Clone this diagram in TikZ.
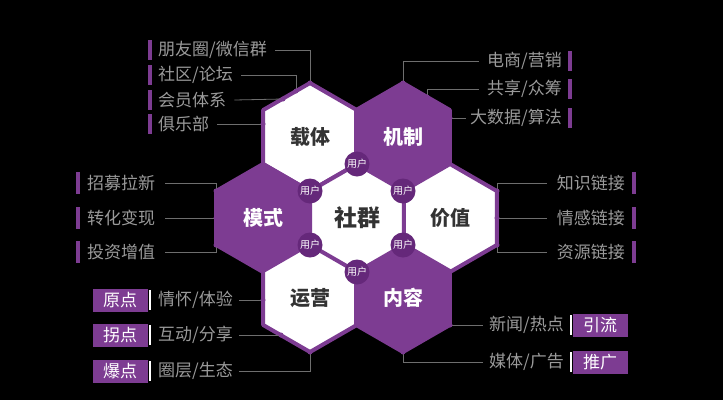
\documentclass[tikz,border=0pt]{standalone}
\usepackage{fontspec}
\setmainfont{Noto Sans CJK SC}
\begin{document}
\begin{tikzpicture}[x=1pt,y=-1pt,
  hexline/.style={draw=hp,line width=4pt,line join=round},
  lab/.style={font=\fontsize{17}{17}\selectfont,text=tg,inner sep=0pt},
  hl/.style={font=\bfseries\fontsize{20}{20}\selectfont,inner sep=0pt},
  usr/.style={circle,fill=dp,minimum size=25pt,inner sep=0pt,text=white,font=\fontsize{10}{10}\selectfont},
  ln/.style={draw=lg,line width=0.8pt},
  dot/.style={circle,fill=hp,inner sep=0pt,minimum size=5pt},
  tag/.style={fill=hp,text=white,font=\fontsize{17}{17}\selectfont,minimum width=55pt,minimum height=23pt,inner sep=0pt}]
\definecolor{hp}{HTML}{7D3C92}
\definecolor{dp}{HTML}{65287A}
\definecolor{tg}{HTML}{9A9A9A}
\definecolor{lg}{HTML}{6E6E6E}
\definecolor{dk}{HTML}{333333}
\fill[black] (0,0) rectangle (723,400);
\useasboundingbox (0,0) rectangle (723,400);
\newcommand\hexp[3]{%
  \path[#3] (#1,#2-54) -- (#1+46.8,#2-27) -- (#1+46.8,#2+27) -- (#1,#2+54) -- (#1-46.8,#2+27) -- (#1-46.8,#2-27) -- cycle;}
\hexp{310}{137}{fill=white,hexline}
\hexp{403}{137}{fill=hp,hexline}
\hexp{263}{218}{fill=hp,hexline}
\hexp{450}{218}{fill=white,hexline}
\hexp{310}{298}{fill=white,hexline}
\hexp{403}{298}{fill=hp,hexline}
\hexp{357}{218}{fill=white,hexline}
\node[hl,text=dk] (zt) at (310,137) {载体};
\node[hl,text=white] (jz) at (403,137) {机制};
\node[hl,text=white] (ms) at (263,218) {模式};
\node[hl,text=dk] (jv) at (450,218) {价值};
\node[hl,text=dk] (yy) at (310,298) {运营};
\node[hl,text=white] (nr) at (403,298) {内容};
\node[hl,text=dk,font=\bfseries\fontsize{23}{23}\selectfont] (sq) at (357,218) {社群};
\node[usr] (u1) at (357,164) {用户};
\node[usr] (u2) at (310,191) {用户};
\node[usr] (u3) at (403,191) {用户};
\node[usr] (u4) at (310,245) {用户};
\node[usr] (u5) at (403,245) {用户};
\node[usr] (u6) at (357,272) {用户};
% top left
\foreach \t/\y/\n in {{朋友圈/微信群}/50/a1,{社区/论坛}/75/a2,{会员体系}/100/a3,{俱乐部}/124/a4}{
  \fill[hp] (148,\y-10) rectangle (152,\y+10);
  \node[lab,anchor=west] (\n) at (158,\y) {\t};}
\coordinate (p1) at (310,83); \coordinate (p2) at (296,91); \coordinate (p3) at (283,99); \coordinate (p4) at (263,124);
\draw[ln] ([xshift=8pt]a1.east) -| (p1);
\draw[ln] ([xshift=8pt]a2.east) -| (p2);
\draw[ln] ([xshift=8pt]a3.east) -- (p3);
\draw[ln] ([xshift=8pt]a4.east) -- (p4);
\foreach \p in {p1,p2,p3,p4} \node[dot] at (\p) {};
% top right
\foreach \t/\y/\n in {{电商/营销}/61/b1,{共享/众筹}/89/b2,{大数据/算法}/118/b3}{
  \fill[hp] (568,\y-10) rectangle (572,\y+10);
  \node[lab,anchor=east] (\n) at (562,\y) {\t};}
\coordinate (q1) at (403,83); \coordinate (q2) at (427,97); \coordinate (q3) at (450,118);
\draw[ln] ([xshift=-8pt]b1.west) -| (q1);
\draw[ln] ([xshift=-8pt]b2.west) -| (q2);
\draw[ln] ([xshift=-4pt]b3.west) -- (q3);
\foreach \p in {q1,q2,q3} \node[dot] at (\p) {};
% middle left
\foreach \t/\y/\n in {招募拉新/183/c1,转化变现/218/c2,投资增值/252/c3}{
  \fill[hp] (76,\y-11) rectangle (80,\y+11);
  \node[lab,anchor=west] (\n) at (87,\y) {\t};}
\coordinate (r1) at (216,191); \coordinate (r2) at (216,218); \coordinate (r3) at (216,245);
\draw[ln] ([xshift=10pt]c1.east) -| (r1);
\draw[ln] ([xshift=10pt]c2.east) -- (r2);
\draw[ln] ([xshift=10pt]c3.east) -| (r3);
\foreach \p in {r1,r2,r3} \node[dot] at (\p) {};
% middle right
\foreach \t/\y/\n in {知识链接/183/d1,情感链接/218/d2,资源链接/252/d3}{
  \fill[hp] (632,\y-11) rectangle (636,\y+11);
  \node[lab,anchor=east] (\n) at (625,\y) {\t};}
\coordinate (s1) at (497,191); \coordinate (s2) at (497,218); \coordinate (s3) at (497,245);
\draw[ln] ([xshift=-10pt]d1.west) -| (s1);
\draw[ln] ([xshift=-10pt]d2.west) -- (s2);
\draw[ln] ([xshift=-10pt]d3.west) -| (s3);
\foreach \p in {s1,s2,s3} \node[dot] at (\p) {};
% bottom left
\foreach \k/\t/\y/\n in {原点/{情怀/体验}/300/e1,拐点/{互动/分享}/335/e2,爆点/{圈层/生态}/371/e3}{
  \node[tag] (k\n) at (120,\y) {\k};
  \fill[white] (149,\y-10) rectangle (151,\y+10);
  \node[lab,anchor=west] (\n) at (158,\y) {\t};}
\coordinate (t1) at (263,300); \coordinate (t2) at (281,335); \coordinate (t3) at (310,352);
\draw[ln] ([xshift=6pt]e1.east) -- (t1);
\draw[ln] ([xshift=6pt]e2.east) -- (t2);
\draw[ln] ([xshift=6pt]e3.east) -| (t3);
\foreach \p in {t1,t2,t3} \node[dot] at (\p) {};
% bottom right
\foreach \k/\t/\y/\n in {引流/{新闻/热点}/325/f1,推广/{媒体/广告}/362/f2}{
  \node[tag] (k\n) at (600,\y) {\k};
  \fill[white] (570,\y-10) rectangle (572,\y+10);
  \node[lab,anchor=east] (\n) at (564,\y) {\t};}
\coordinate (v1) at (450,325); \coordinate (v2) at (403,352);
\draw[ln] ([xshift=-6pt]f1.west) -- (v1);
\draw[ln] ([xshift=-6pt]f2.west) -| (v2);
\foreach \p in {v1,v2} \node[dot] at (\p) {};
\end{tikzpicture}
\end{document}
